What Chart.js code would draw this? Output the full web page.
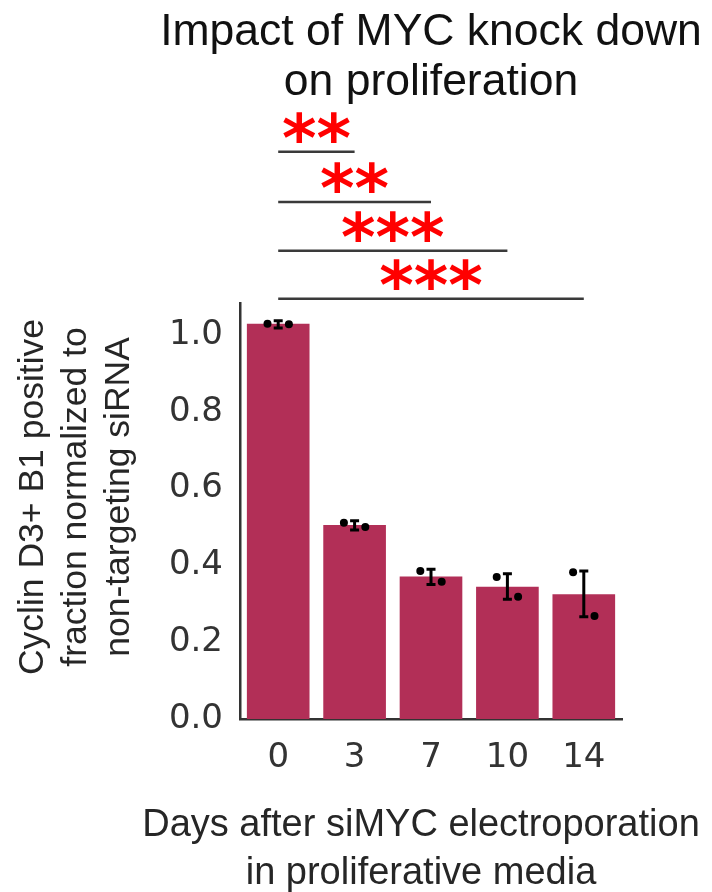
<!DOCTYPE html>
<html>
<head>
<meta charset="utf-8">
<script src="https://cdn.jsdelivr.net/npm/chart.js@4/dist/chart.umd.min.js"></script>
<style>
  html, body { margin: 0; padding: 0; background: #ffffff; }
  #wrap { width: 712px; height: 892px; }
</style>
</head>
<body>
<div id="wrap"><canvas id="chart" width="712" height="892"></canvas></div>
<script>
// Days after siMYC electroporation
const days = ['0', '3', '7', '10', '14'];
// Mean Cyclin D3+ B1 positive fraction, normalized to non-targeting siRNA
const meanFraction = [1.029, 0.505, 0.371, 0.344, 0.325];
// Individual replicates
const replicateA = [1.029, 0.511, 0.385, 0.370, 0.382];
const replicateB = [1.028, 0.500, 0.357, 0.318, 0.268];
// Error bar extents
const errLow = [1.018, 0.492, 0.350, 0.312, 0.266];
const errHigh = [1.037, 0.516, 0.390, 0.378, 0.385];
// y-axis ticks
const yTicks = [0.0, 0.2, 0.4, 0.6, 0.8, 1.0];
// Significance brackets: day 0 vs each later day
const sigTargets = ['3', '7', '10', '14'];
const sigHeights = [1.477, 1.346, 1.219, 1.094];
const sigMarks = ['**', '**', '***', '***'];

const titleLines = ['Impact of MYC knock down', 'on proliferation'];
const yTitleLines = ['Cyclin D3+ B1 positive', 'fraction normalized to', 'non-targeting siRNA'];
const xTitleLines = ['Days after siMYC electroporation', 'in proliferative media'];

const BAR_COLOR = '#b22f57';
const INK = '#333333';
const DOT_SPREAD = 0.14;

const dotsA = replicateA.map((v, i) => ({ x: i - DOT_SPREAD, y: v }));
const dotsB = replicateB.map((v, i) => ({ x: i + DOT_SPREAD, y: v }));

const errorBars = {
  id: 'errorBars',
  afterDatasetsDraw(chart) {
    const ctx = chart.ctx;
    const xs = chart.scales.x, ys = chart.scales.y;
    ctx.save();
    ctx.strokeStyle = '#000000';
    ctx.lineWidth = 3;
    ctx.lineCap = 'butt';
    days.forEach((d, i) => {
      const x = xs.getPixelForValue(i);
      const y1 = ys.getPixelForValue(errLow[i]);
      const y2 = ys.getPixelForValue(errHigh[i]);
      ctx.beginPath();
      ctx.moveTo(x, y1); ctx.lineTo(x, y2);
      ctx.moveTo(x - 4.5, y1); ctx.lineTo(x + 4.5, y1);
      ctx.moveTo(x - 4.5, y2); ctx.lineTo(x + 4.5, y2);
      ctx.stroke();
    });
    ctx.restore();
  }
};

const annotations = {
  id: 'annotations',
  afterDraw(chart) {
    const ctx = chart.ctx;
    const xs = chart.scales.x, ys = chart.scales.y;
    const area = chart.chartArea;
    ctx.save();

    // significance brackets
    const x0 = xs.getPixelForValue(0);
    sigTargets.forEach((t, k) => {
      const x1 = xs.getPixelForValue(days.indexOf(t));
      const y = ys.getPixelForValue(sigHeights[k]);
      ctx.strokeStyle = '#3a3a3a';
      ctx.lineWidth = 2.5;
      ctx.beginPath();
      ctx.moveTo(x0, y); ctx.lineTo(x1, y);
      ctx.stroke();
      ctx.fillStyle = '#ff0000';
      ctx.font = 'bold 66px "DejaVu Sans"';
      ctx.textAlign = 'center';
      ctx.textBaseline = 'alphabetic';
      const m = ctx.measureText(sigMarks[k]);
      const base = y - 9 - m.actualBoundingBoxDescent;
      ctx.fillText(sigMarks[k], (x0 + x1) / 2, base);
    });

    // title
    ctx.fillStyle = '#111111';
    ctx.font = '44.5px "Liberation Sans"';
    ctx.textAlign = 'center';
    ctx.textBaseline = 'alphabetic';
    const cx = (area.left + area.right) / 2;
    titleLines.forEach((s, i) => ctx.fillText(s, cx, 45 + i * 50));

    // x-axis title
    ctx.fillStyle = '#262626';
    ctx.font = '38px "Liberation Sans"';
    xTitleLines.forEach((s, i) => ctx.fillText(s, 421, 836 + i * 48));

    // y-axis title
    ctx.font = '35.5px "Liberation Sans"';
    ctx.translate(0, 497);
    ctx.rotate(-Math.PI / 2);
    yTitleLines.forEach((s, i) => ctx.fillText(s, 0, 43 + i * 43));

    ctx.restore();
  }
};

new Chart(document.getElementById('chart'), {
  data: {
    labels: days,
    datasets: [
      {
        type: 'bar',
        data: meanFraction,
        backgroundColor: BAR_COLOR,
        borderWidth: 0,
        grouped: false,
        barPercentage: 0.82,
        categoryPercentage: 1.0,
        order: 2
      },
      {
        type: 'scatter',
        xAxisID: 'xr',
        data: dotsA.concat(dotsB),
        backgroundColor: '#000000',
        borderWidth: 0,
        pointRadius: 4,
        order: 1
      }
    ]
  },
  options: {
    responsive: false,
    animation: false,
    layout: { padding: { top: 303, right: 90, bottom: 0, left: 0 } },
    plugins: { legend: { display: false }, tooltip: { enabled: false }, title: { display: false } },
    scales: {
      x: {
        type: 'category',
        offset: true,
        grid: { display: false, drawTicks: false },
        border: { display: true, color: INK, width: 2.5 },
        ticks: { color: INK, padding: 19, font: { family: 'DejaVu Sans', size: 34 } },
        afterFit(s) { s.height = 173; }
      },
      xr: {
        type: 'linear',
        display: false,
        min: -0.5,
        max: 4.5,
        offset: false
      },
      y: {
        type: 'linear',
        min: 0,
        max: 1.083,
        grid: { display: false, drawTicks: false },
        border: { display: true, color: INK, width: 2.5 },
        afterBuildTicks(s) { s.ticks = yTicks.map(v => ({ value: v })); },
        ticks: {
          color: INK,
          padding: 17,
          font: { family: 'DejaVu Sans', size: 34 },
          callback: v => Number(v).toFixed(1)
        },
        afterFit(s) { s.width = 240; }
      }
    }
  },
  plugins: [errorBars, annotations]
});
</script>
</body>
</html>
